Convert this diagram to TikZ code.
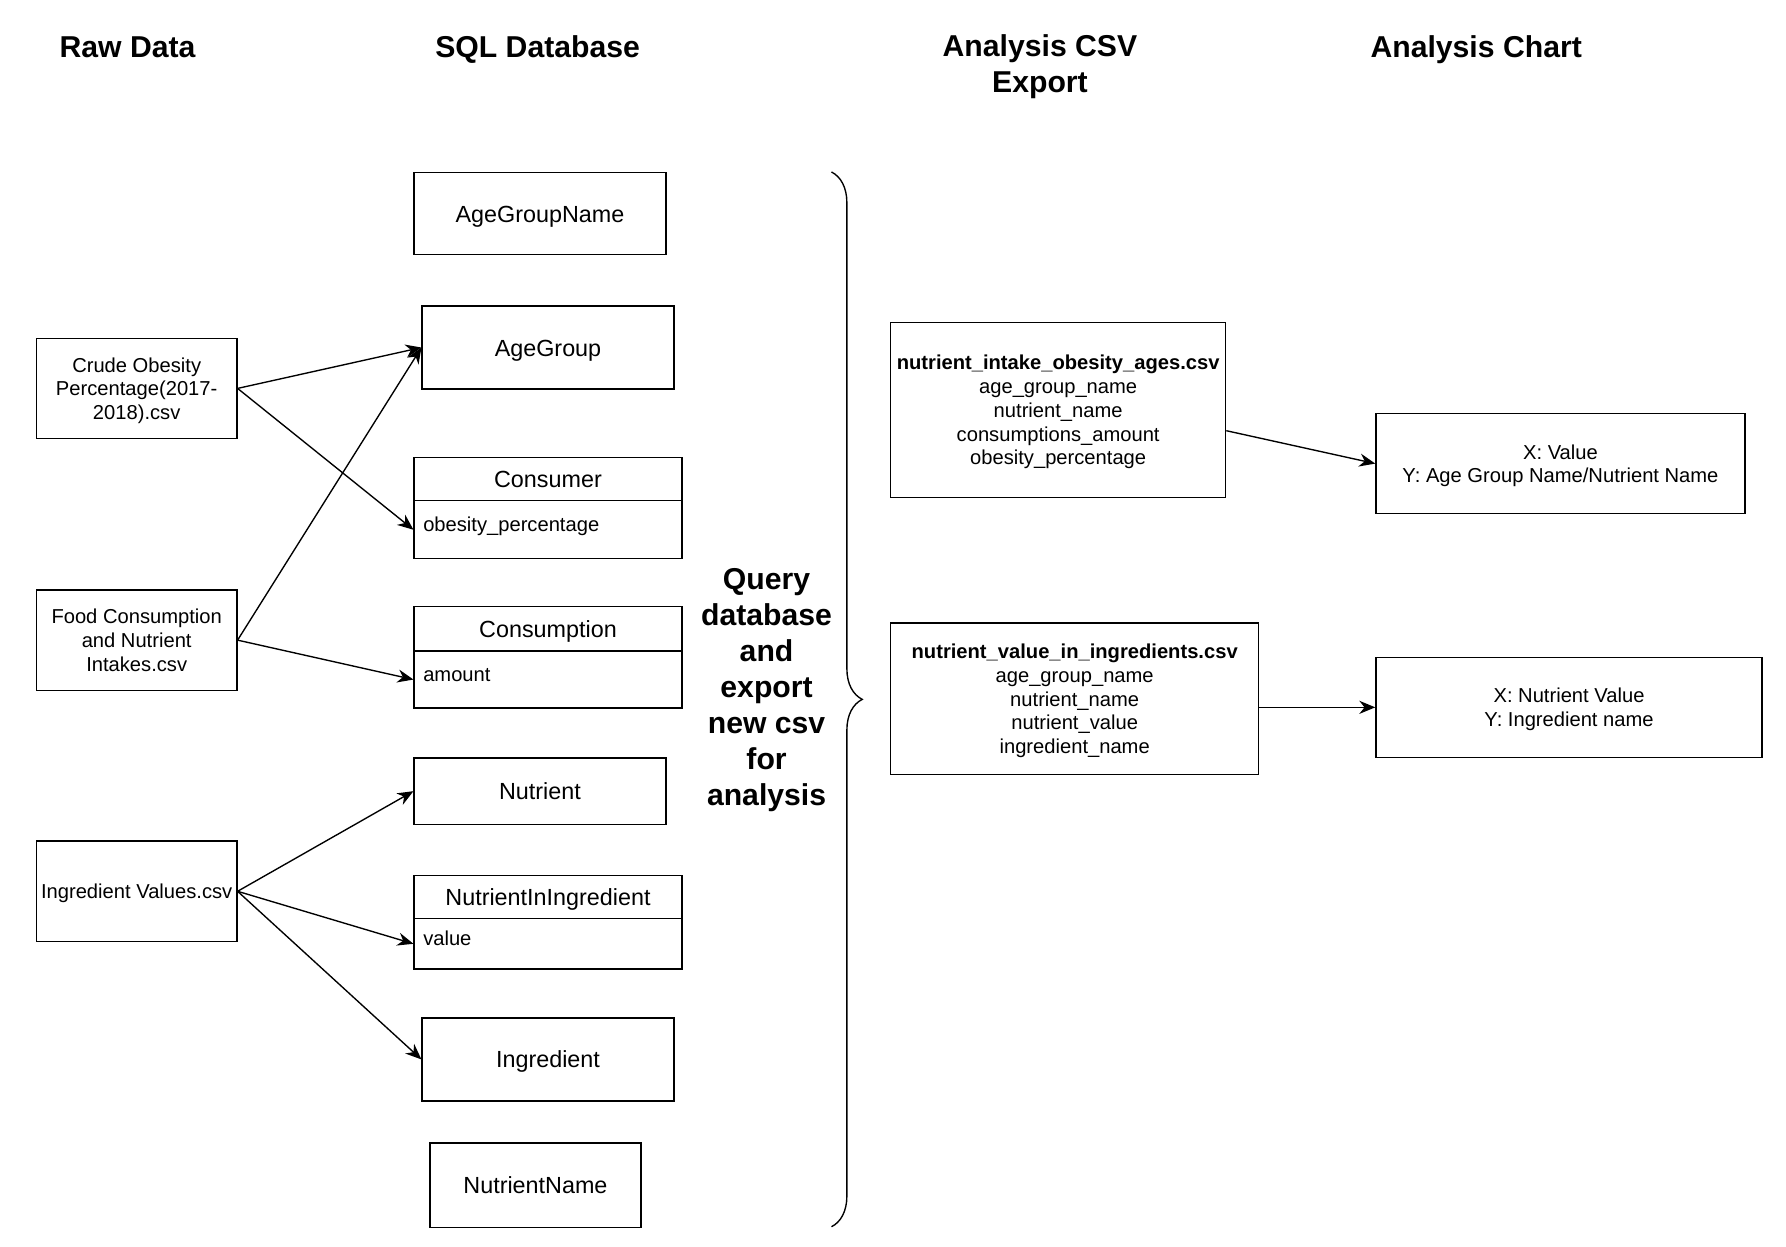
\documentclass[tikz,border=0pt]{standalone}
\usepackage{fontspec}
\setmainfont{Liberation Sans}
\usepackage{tikz}
\usetikzlibrary{arrows.meta, decorations.pathreplacing}

\begin{document}
\begin{tikzpicture}[
    x=1pt, y=-1pt,
    >={Stealth[length=14pt, width=11.5pt]},
    header style/.style={font=\fontsize{26.5}{31.6}\selectfont\bfseries, align=center},
    title style/.style={header style, text height=20pt, text depth=6pt},
    box style/.style={draw, line width=1.2pt, inner sep=0pt, text depth=-2.2pt, font=\fontsize{17.7}{20.8}\selectfont, align=center},
    table style/.style={draw, line width=1.2pt, inner sep=0pt, text height=17pt, text depth=2pt, font=\fontsize{20.5}{24}\selectfont, anchor=north west},
    row style/.style={draw, line width=1.2pt, inner xsep=8pt, inner ysep=0pt, text width=219pt, text height=13pt, text depth=10pt, font=\fontsize{17.7}{20.8}\selectfont, anchor=north west, align=left},
    path style/.style={line width=1.2pt, ->}
]

% Fix the page size
\useasboundingbox (0,0) rectangle (1568,1094);

% Draw the column titles
\node[title style] (rawtitle) at (112,43.5) {Raw Data};
\node[title style] (sqltitle) at (472,43.5) {SQL Database};
\node[header style] (csvtitle) at (913,58.5) {Analysis CSV\\Export};
\node[title style] (charttitle) at (1296,43.5) {Analysis Chart};

% Raw data files
\node[box style, minimum width=176pt, minimum height=88pt] (rawcrude) at (120,341) {Crude Obesity\\Percentage(2017-\\2018).csv};
\node[box style, minimum width=176pt, minimum height=88pt] (rawfood) at (120,562) {Food Consumption\\and Nutrient\\Intakes.csv};
\node[box style, minimum width=176pt, minimum height=88pt] (rawingredient) at (120,782.5) {Ingredient Values.csv};

% Database tables
\node[table style, minimum width=221pt, minimum height=72pt] (agegroupname) at (363,151) {AgeGroupName};
\node[table style, minimum width=221pt, minimum height=73pt] (agegroup) at (370,268) {AgeGroup};
\node[table style, minimum width=235pt, minimum height=38pt] (consumer) at (363,401) {Consumer};
\node[row style, minimum height=51pt] (consumerrow) at (363,439) {obesity\_percentage};
\node[table style, minimum width=235pt, minimum height=39pt] (consumption) at (363,532) {Consumption};
\node[row style, minimum height=50pt] (consumptionrow) at (363,571) {amount};
\node[table style, minimum width=221pt, minimum height=58pt] (nutrient) at (363,665) {Nutrient};
\node[table style, minimum width=235pt, minimum height=38pt] (nutrientiningredient) at (363,768) {NutrientInIngredient};
\node[row style, minimum height=44pt] (nutrientrow) at (363,806) {value};
\node[table style, minimum width=221pt, minimum height=73pt] (ingredient) at (370,893) {Ingredient};
\node[table style, minimum width=185pt, minimum height=74pt] (nutrientname) at (377,1003) {NutrientName};

% Brace and query step
\draw[line width=1.2pt, decorate, decoration={brace, amplitude=27pt}] (730,151) -- (730,1077);
\node[header style] (query) at (673,605.5) {Query\\database\\and\\export\\new csv\\for\\analysis};

% Exported csv files
\node[box style, minimum width=294pt, minimum height=154pt] (csvone) at (929,360)
    {\textbf{nutrient\_intake\_obesity\_ages.csv}\\age\_group\_name\\nutrient\_name\\consumptions\_amount\\obesity\_percentage};
\node[box style, minimum width=323pt, minimum height=133pt] (csvtwo) at (943.5,613.5)
    {\textbf{nutrient\_value\_in\_ingredients.csv}\\age\_group\_name\\nutrient\_name\\nutrient\_value\\ingredient\_name};

% Charts
\node[box style, minimum width=324pt, minimum height=88pt] (chartone) at (1370,407) {X: Value\\Y: Age Group Name/Nutrient Name};
\node[box style, minimum width=339pt, minimum height=88pt] (charttwo) at (1377.5,621) {X: Nutrient Value\\Y: Ingredient name};

% Draw the arrows
\draw[path style] (rawcrude.east) -- (agegroup.west);
\draw[path style] (rawcrude.east) -- (consumerrow.west);
\draw[path style] (rawfood.east) -- (agegroup.west);
\draw[path style] (rawfood.east) -- (consumptionrow.west);
\foreach \t in {nutrient, nutrientrow, ingredient} {
    \draw[path style] (rawingredient.east) -- (\t.west);
}
\draw[path style] (csvone.-7) -- (chartone.west);
\draw[path style] (csvtwo.east |- charttwo.west) -- (charttwo.west);
\end{tikzpicture}
\end{document}
